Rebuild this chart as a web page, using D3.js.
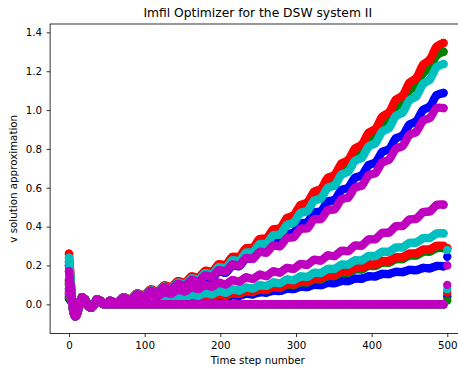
<!DOCTYPE html>
<html><head><meta charset="utf-8">
<script src="https://cdn.jsdelivr.net/npm/d3@7"></script>
<style>
html,body{margin:0;padding:0;background:#fff;}
svg{display:block;font-family:"DejaVu Sans",sans-serif;}
</style></head>
<body><svg id="chart" width="458" height="374"></svg>
<script>
// ---- data ----
const xTicks = [0, 100, 200, 300, 400, 500];
const yTicks = [0.0, 0.2, 0.4, 0.6, 0.8, 1.0, 1.2, 1.4];
const colorNames = ["b", "g", "r", "c", "m"];

const steps = [0,2,4,6,8,10,13,17,21,25,29,33,37,41,45,49,
  54,63,72,81,90,99,108,117,126,135,144,153,162,171,180,189,198,207,216,225,
  234,243,252,261,270,279,288,297,306,315,324,333,342,351,360,369,378,387,396,405,
  414,423,432,441,450,459,468,477,486,495];
const endStep = 500;

// order: upper b,g,r,c,m | lower b,g,r,c,m | zero b,g,r,c,m
const valueAt0 = [0.20, 0.22, 0.26, 0.24, 0.17, 0.05, 0.10, 0.11, 0.12, 0.125, 0.03, 0.04, 0.06, 0.07, 0.08];
const valueAt2 = [0.12, 0.13, 0.15, 0.14, 0.10, 0.04, 0.06, 0.065, 0.07, 0.075, 0.02, 0.025, 0.035, 0.04, 0.045];
const transient = [0.02, -0.04, -0.062, -0.055, -0.015, 0.035, 0.025, -0.005, -0.018, -0.005, 0.025, 0.02, 0.003, 0.0];
const endValues = [null, null, null, null, null, 0.245, 0.285, 0.29, 0.28, 0.20, 0.04, 0.02, 0.06, 0.078, 0.10];

const upperB = [0.017,0.005,0.032,0.019,0.047,0.035,0.063,0.052,0.080,0.069,
  0.098,0.088,0.118,0.109,0.141,0.134,0.169,0.163,0.200,0.197,
  0.235,0.235,0.273,0.274,0.314,0.316,0.361,0.369,0.415,0.423,
  0.471,0.479,0.528,0.538,0.588,0.600,0.651,0.664,0.716,0.730,
  0.784,0.798,0.854,0.869,0.925,0.942,1.000,1.019,1.076,1.088];
const upperG = [0.019,0.007,0.036,0.025,0.055,0.045,0.074,0.064,0.095,0.085,
  0.116,0.107,0.139,0.133,0.167,0.163,0.200,0.197,0.237,0.237,
  0.279,0.282,0.325,0.329,0.373,0.379,0.429,0.443,0.494,0.507,
  0.561,0.575,0.629,0.644,0.701,0.718,0.775,0.795,0.853,0.873,
  0.933,0.955,1.017,1.039,1.102,1.126,1.191,1.217,1.282,1.300];
const upperR = [0.019,0.008,0.037,0.026,0.056,0.046,0.076,0.066,0.097,0.088,
  0.119,0.111,0.143,0.137,0.172,0.168,0.206,0.204,0.244,0.245,
  0.288,0.292,0.335,0.340,0.385,0.392,0.443,0.458,0.510,0.524,
  0.579,0.594,0.650,0.666,0.724,0.743,0.801,0.822,0.882,0.903,
  0.965,0.988,1.052,1.075,1.140,1.165,1.232,1.260,1.326,1.345];
const upperC = [0.018,0.007,0.035,0.024,0.053,0.042,0.071,0.061,0.091,0.081,
  0.111,0.102,0.133,0.126,0.160,0.154,0.191,0.187,0.226,0.225,
  0.266,0.268,0.309,0.312,0.355,0.360,0.408,0.421,0.470,0.481,
  0.533,0.546,0.599,0.612,0.667,0.683,0.738,0.755,0.812,0.830,
  0.889,0.908,0.969,0.988,1.050,1.071,1.134,1.158,1.221,1.237];
const upperM = [0.018,0.006,0.034,0.022,0.051,0.040,0.069,0.058,0.088,0.078,
  0.105,0.095,0.125,0.116,0.148,0.141,0.175,0.170,0.205,0.201,
  0.238,0.235,0.270,0.267,0.302,0.300,0.341,0.346,0.388,0.392,
  0.437,0.440,0.484,0.490,0.540,0.550,0.600,0.612,0.664,0.676,
  0.730,0.745,0.800,0.816,0.872,0.888,0.945,0.960,1.010,1.010];

const lowerB = [0.003,-0.001,0.006,0.002,0.009,0.005,0.013,0.009,0.017,0.013,
  0.021,0.018,0.027,0.024,0.033,0.030,0.039,0.036,0.046,0.044,
  0.054,0.052,0.062,0.060,0.070,0.069,0.080,0.079,0.090,0.089,
  0.100,0.099,0.110,0.109,0.120,0.120,0.132,0.132,0.144,0.144,
  0.156,0.156,0.167,0.166,0.177,0.176,0.187,0.186,0.197,0.196];
const lowerG = [0.005,-0.001,0.009,0.003,0.013,0.007,0.017,0.012,0.023,0.018,
  0.029,0.024,0.035,0.030,0.041,0.037,0.049,0.045,0.057,0.054,
  0.066,0.063,0.076,0.074,0.088,0.085,0.100,0.099,0.113,0.113,
  0.129,0.128,0.145,0.146,0.162,0.163,0.180,0.180,0.197,0.198,
  0.214,0.215,0.232,0.233,0.251,0.252,0.270,0.272,0.289,0.289];
const lowerR = [0.005,-0.001,0.009,0.003,0.013,0.007,0.018,0.013,0.024,0.019,
  0.030,0.025,0.036,0.031,0.043,0.039,0.051,0.047,0.059,0.056,
  0.069,0.066,0.079,0.077,0.091,0.089,0.104,0.103,0.118,0.118,
  0.134,0.134,0.151,0.152,0.169,0.170,0.187,0.188,0.205,0.206,
  0.223,0.224,0.241,0.243,0.261,0.263,0.281,0.283,0.301,0.301];
const lowerC = [0.007,0.000,0.013,0.006,0.019,0.012,0.026,0.020,0.034,0.028,
  0.042,0.036,0.050,0.044,0.058,0.052,0.067,0.061,0.076,0.071,
  0.086,0.082,0.098,0.095,0.112,0.109,0.127,0.125,0.143,0.142,
  0.162,0.162,0.182,0.183,0.204,0.205,0.226,0.227,0.248,0.249,
  0.270,0.271,0.292,0.294,0.316,0.318,0.340,0.342,0.364,0.365];
const lowerM = [0.011,0.003,0.023,0.015,0.035,0.027,0.048,0.041,0.062,0.055,
  0.075,0.067,0.087,0.079,0.099,0.091,0.111,0.103,0.124,0.117,
  0.138,0.131,0.152,0.146,0.169,0.164,0.187,0.183,0.207,0.204,
  0.229,0.226,0.251,0.249,0.275,0.274,0.302,0.303,0.333,0.336,
  0.367,0.370,0.401,0.404,0.436,0.441,0.474,0.479,0.511,0.513];
const zeroTrend = [0,0,0,0,0,0,0,0,0,0, 0,0,0,0,0,0,0,0,0,0,
  0,0,0,0,0,0,0,0,0,0, 0,0,0,0,0,0,0,0,0,0, 0,0,0,0,0,0,0,0,0,0];

const trends = [upperB, upperG, upperR, upperC, upperM,
                lowerB, lowerG, lowerR, lowerC, lowerM,
                zeroTrend, zeroTrend, zeroTrend, zeroTrend, zeroTrend];

(function () {
  // ---- styles ----
  const palette = {b: "#0000ff", g: "#008000", r: "#ff0000", c: "#00bfbf", m: "#bf00bf"};
  const pLeft = 50.1, pRight = 465.4, pTop = 24, pBottom = 333.5;
  const R = 4.2;

  const svg = d3.select("#chart");
  const x = d3.scaleLinear().domain([-24.95, 523.95]).range([pLeft, pRight]);
  const y = d3.scaleLinear().domain([-0.1503, 1.4431]).range([pBottom, pTop]);

  const series = trends.map((tr, i) => {
    const vals = [valueAt0[i], valueAt2[i]].concat(transient, tr);
    const pts = steps.map((s, j) => [s, vals[j]]);
    return {color: palette[colorNames[i % 5]], pts, end: endValues[i]};
  });

  const line = d3.line().x(d => x(d[0])).y(d => y(d[1])).curve(d3.curveCatmullRom.alpha(0.5));
  const gData = svg.append("g");
  series.forEach(s => {
    const g = gData.append("g");
    g.append("path").attr("d", line(s.pts)).attr("fill", "none")
      .attr("stroke", s.color).attr("stroke-width", 2 * R)
      .attr("stroke-linecap", "round").attr("stroke-linejoin", "round");
    const allPts = s.end === null ? s.pts : s.pts.concat([[endStep, s.end]]);
    g.selectAll("circle").data(allPts).join("circle")
      .attr("cx", d => x(d[0])).attr("cy", d => y(d[1])).attr("r", R).attr("fill", s.color);
  });

  // axes
  const xAxis = d3.axisBottom(x).tickValues(xTicks).tickSize(3.5).tickSizeOuter(0).tickPadding(4.5)
    .tickFormat(d3.format("d"));
  const yAxis = d3.axisLeft(y).tickValues(yTicks).tickSize(3.5).tickSizeOuter(0).tickPadding(4.5)
    .tickFormat(d3.format(".1f"));
  const gx = svg.append("g").attr("transform", `translate(0,${pBottom})`).call(xAxis);
  const gy = svg.append("g").attr("transform", `translate(${pLeft},0)`).call(yAxis);
  [gx, gy].forEach(g => {
    g.select(".domain").remove();
    g.selectAll("line").attr("stroke", "#000").attr("stroke-width", 0.8);
    g.selectAll("text").attr("fill", "#000").style("font-size", "10.3px").style("font-family", "DejaVu Sans");
  });
  // spines
  svg.append("rect").attr("x", pLeft).attr("y", pTop).attr("width", pRight - pLeft).attr("height", pBottom - pTop)
    .attr("fill", "none").attr("stroke", "#000").attr("stroke-width", 0.8);

  // labels
  svg.append("text").attr("x", (pLeft + pRight) / 2).attr("y", 17).attr("text-anchor", "middle")
    .style("font-size", "12.3px").text("Imfil Optimizer for the DSW system II");
  svg.append("text").attr("x", (pLeft + pRight) / 2).attr("y", 364).attr("text-anchor", "middle")
    .style("font-size", "10.3px").text("Time step number");
  svg.append("text").attr("transform", `translate(17,${(pTop + pBottom) / 2}) rotate(-90)`)
    .attr("text-anchor", "middle").style("font-size", "10.3px").text("v solution approximation");
})();
</script></body></html>
